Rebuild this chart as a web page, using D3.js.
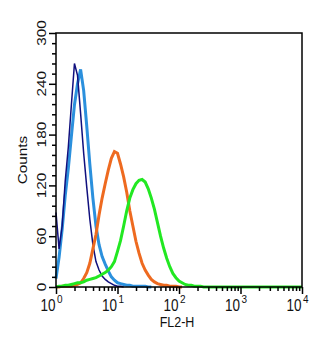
<!DOCTYPE html>
<html>
<head>
<meta charset="utf-8">
<script src="https://cdn.jsdelivr.net/npm/d3@7/dist/d3.min.js"></script>
<style>
  html, body { margin: 0; padding: 0; background: #fff; }
  svg { display: block; }
  text { font-family: "Liberation Sans", Arial, Helvetica, sans-serif; fill: #111; }
</style>
</head>
<body>
<svg id="chart" width="333" height="339"></svg>
<script>
// FL2-H channel positions, in decades (10^d)
const logChannels = [
  0, 0.05, 0.1, 0.15, 0.2, 0.25, 0.3, 0.35, 0.4, 0.45,
  0.5, 0.55, 0.6, 0.65, 0.7, 0.75, 0.8, 0.85, 0.9, 0.95,
  1.0, 1.05, 1.1, 1.15, 1.2, 1.25, 1.3, 1.35, 1.4, 1.45,
  1.5, 1.55, 1.6, 1.65, 1.7, 1.75, 1.8, 1.85, 1.9, 1.95,
  2.0, 2.05, 2.1, 2.15, 2.2, 2.25, 2.3, 2.35, 2.4, 2.45,
  2.5, 4.0
];

// Event counts per channel for each overlaid histogram (null = not drawn)
const navyCounts = [
  88, 45, 72, 125, 165, 215, 264, 250, 205, 158,
  118, 80, 50, 30, 20, 13, 9, 6, 4, 2,
  1, 1, 0, null, null, null, null, null, null, null,
  null, null, null, null, null, null, null, null, null, null,
  null, null, null, null, null, null, null, null, null, null,
  null, null
];
const skyCounts = [
  10, 35, 68, 108, 140, 178, 215, 240, 257, 232,
  190, 145, 105, 72, 50, 36, 27, 19, 12, 8,
  5, 4, 3, 2, 2, 1, 1, 1, 1, 1,
  0, 0, null, null, null, null, null, null, null, null,
  null, null, null, null, null, null, null, null, null, null,
  null, null
];
const orangeCounts = [
  0, 0, 1, 1, 1, 1, 2, 3, 5, 10,
  17, 28, 45, 62, 85, 105, 122, 138, 152, 160,
  158, 145, 130, 112, 90, 72, 54, 40, 28, 20,
  14, 9, 6, 4, 3, 2, 2, 1, 1, 1,
  0, 0, null, null, null, null, null, null, null, null,
  null, null
];
const greenCounts = [
  0, 1, 1, 2, 2, 3, 4, 5, 5, 6,
  8, 9, 10, 11, 13, 15, 17, 20, 24, 30,
  42, 55, 72, 90, 105, 115, 122, 126, 127, 124,
  116, 105, 92, 76, 60, 46, 34, 24, 16, 11,
  7, 5, 3, 2, 2, 1, 1, 1, 0, 0,
  0, 0
];

// Axis ticks
const yMajorTicks = [0, 60, 120, 180, 240, 300];
const yMinorTicks = [12, 24, 36, 48, 72, 84, 96, 108, 132, 144, 156, 168, 192, 204, 216, 228, 252, 264, 276, 288];
const xDecades = [0, 1, 2, 3, 4];
const xMinorMultipliers = [2, 3, 4, 5, 6, 7, 8, 9];

const xLabel = "FL2-H";
const yLabel = "Counts";

const series = [
  { name: "isotype", counts: skyCounts,    color: "#2b90dd", width: 3 },
  { name: "blank",   counts: navyCounts,   color: "#10107e", width: 1.5 },
  { name: "sample1", counts: orangeCounts, color: "#ee6a20", width: 3 },
  { name: "sample2", counts: greenCounts,  color: "#22e822", width: 3 }
];

const svg = d3.select("#chart");
const m = { left: 56, right: 302, top: 33, bottom: 287 };
const stretch = 1.18;

const x = d3.scaleLog().domain([1, 1e4]).range([m.left, m.right]);
const y = d3.scaleLinear().domain([0, 300]).range([m.bottom, m.top]);

// Histogram traces
const lineGen = d3.line()
  .defined(d => d.c !== null)
  .x(d => x(Math.pow(10, d.d)))
  .y(d => y(d.c));

const plot = svg.append("g");
series.forEach(s => {
  const pts = logChannels.map((d, i) => ({ d, c: s.counts[i] }));
  plot.append("path")
    .attr("d", lineGen(pts))
    .attr("fill", "none")
    .attr("stroke", s.color)
    .attr("stroke-width", s.width)
    .attr("stroke-linejoin", "miter");
});

// Frame
svg.append("rect")
  .attr("x", m.left).attr("y", m.top)
  .attr("width", m.right - m.left).attr("height", m.bottom - m.top)
  .attr("fill", "none").attr("stroke", "#000").attr("stroke-width", 1.5);

// Y axis ticks
const yMajor = svg.append("g").attr("transform", `translate(${m.left},0)`)
  .call(d3.axisLeft(y).tickValues(yMajorTicks).tickSize(7).tickFormat(""));
const yMinor = svg.append("g").attr("transform", `translate(${m.left},0)`)
  .call(d3.axisLeft(y).tickValues(yMinorTicks).tickSize(4).tickFormat(""));

// X axis ticks
const xMinorValues = [];
xDecades.slice(0, -1).forEach(k => xMinorMultipliers.forEach(mm => xMinorValues.push(mm * Math.pow(10, k))));
const xMajor = svg.append("g").attr("transform", `translate(0,${m.bottom})`)
  .call(d3.axisBottom(x).tickValues(xDecades.map(k => Math.pow(10, k))).tickSize(7).tickFormat(""));
const xMinor = svg.append("g").attr("transform", `translate(0,${m.bottom})`)
  .call(d3.axisBottom(x).tickValues(xMinorValues).tickSize(4).tickFormat(""));

[yMajor, yMinor, xMajor, xMinor].forEach(g => {
  g.select(".domain").remove();
  g.selectAll(".tick line").attr("stroke", "#000").attr("stroke-width", 1.5);
});

// Y tick labels (rotated)
yMajorTicks.forEach(v => {
  svg.append("g")
    .attr("transform", `translate(46,${y(v)}) scale(1,${stretch}) rotate(-90)`)
    .append("text")
    .attr("text-anchor", "middle")
    .attr("font-size", 13)
    .text(v);
});

// X tick labels as powers of ten
xDecades.forEach(k => {
  const g = svg.append("g")
    .attr("transform", `translate(${x(Math.pow(10, k))},311) scale(1,${stretch})`);
  g.append("text")
    .attr("text-anchor", "end")
    .attr("x", -0.5)
    .attr("font-size", 13.5)
    .text("10");
  g.append("text")
    .attr("x", 1)
    .attr("y", -7)
    .attr("font-size", 10)
    .text(k);
});

// Axis titles
svg.append("g")
  .attr("transform", `translate(${(m.left + m.right) / 2 - 2},327) scale(1,${stretch})`)
  .append("text")
  .attr("text-anchor", "middle")
  .attr("font-size", 12.5)
  .text(xLabel);

svg.append("g")
  .attr("transform", `translate(27,${(m.top + m.bottom) / 2}) scale(1,${stretch}) rotate(-90)`)
  .append("text")
  .attr("text-anchor", "middle")
  .attr("font-size", 13)
  .text(yLabel);
</script>
</body>
</html>
